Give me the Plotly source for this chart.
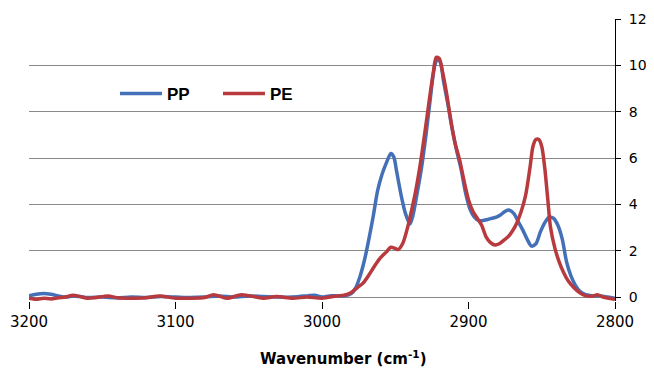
import plotly.graph_objects as go

# ---- data ----
pp_wavenumber = [3200, 3195, 3190, 3185, 3180, 3175, 3170, 3165, 3160, 3150, 3140, 3130, 3120, 3110,
                 3100, 3090, 3080, 3070, 3060, 3050, 3040, 3030, 3020, 3010, 3005, 3000, 2995, 2990,
                 2985, 2980, 2977, 2974, 2971, 2968, 2965, 2962, 2959, 2956, 2953, 2951, 2949, 2946,
                 2943, 2940, 2938, 2935, 2932, 2929, 2926, 2923, 2921, 2919, 2917, 2914, 2911, 2908,
                 2905, 2902, 2899, 2896, 2893, 2890, 2887, 2884, 2881, 2878, 2875, 2872, 2869, 2866,
                 2863, 2860, 2857, 2854, 2851, 2848, 2845, 2842, 2839, 2836, 2833, 2830, 2827, 2824,
                 2820, 2815, 2810, 2805, 2800]
pp_values = [0.05, 0.12, 0.15, 0.12, 0.05, 0.0, 0.05, 0.02, -0.02, 0.0, -0.03, 0.0, -0.02, 0.02,
             0.0, -0.02, 0.0, 0.05, 0.0, 0.05, 0.02, 0.0, 0.0, 0.05, 0.08, 0.0, 0.05, 0.05,
             0.05, 0.15, 0.4, 0.9, 1.6, 2.5, 3.5, 4.6, 5.3, 5.8, 6.2, 6.05, 5.4, 4.4,
             3.6, 3.15, 3.5, 4.5, 5.6, 7.0, 8.6, 10.0, 10.3, 10.1, 9.3, 8.3, 7.2, 6.3,
             5.5, 4.5, 3.8, 3.45, 3.3, 3.3, 3.35, 3.4, 3.45, 3.55, 3.7, 3.75, 3.6, 3.25,
             2.9, 2.5, 2.2, 2.3, 2.8, 3.2, 3.45, 3.4, 3.1, 2.5, 1.5, 0.9, 0.5, 0.25,
             0.1, 0.05, 0.05, 0.0, -0.05]

pe_wavenumber = [3200, 3195, 3190, 3185, 3180, 3175, 3170, 3165, 3160, 3155, 3146, 3140, 3130, 3120,
                 3111, 3100, 3090, 3080, 3074, 3065, 3055, 3045, 3040, 3031, 3020, 3010, 3000, 2990,
                 2985, 2980, 2976, 2972, 2968, 2964, 2960, 2956, 2953, 2950, 2948, 2945, 2942, 2939,
                 2936, 2933, 2930, 2927, 2924, 2922, 2920, 2918, 2915, 2912, 2909, 2906, 2903, 2900,
                 2897, 2894, 2891, 2888, 2885, 2882, 2879, 2876, 2873, 2870, 2867, 2864, 2861, 2858,
                 2856, 2854, 2852, 2850, 2848, 2846, 2844, 2841, 2838, 2835, 2832, 2828, 2824, 2820,
                 2815, 2812, 2808, 2804, 2800]
pe_values = [-0.05, -0.1, -0.05, -0.08, -0.03, 0.0, 0.08, 0.02, -0.05, -0.03, 0.05, -0.03, -0.05, -0.03,
             0.05, -0.05, -0.05, -0.02, 0.1, -0.05, 0.1, 0.0, -0.05, 0.02, -0.05, 0.0, -0.05, 0.05,
             0.08, 0.2, 0.4, 0.6, 0.95, 1.35, 1.7, 1.95, 2.15, 2.1, 2.05, 2.3, 2.9, 3.7,
             4.6, 5.7, 7.0, 8.4, 9.7, 10.35, 10.3, 9.8, 8.8, 7.6, 6.6, 5.9, 5.0, 4.2,
             3.7, 3.4, 3.1, 2.6, 2.35, 2.25, 2.3, 2.45, 2.6, 2.85, 3.2, 3.7, 4.4, 5.6,
             6.5, 6.8, 6.8, 6.5, 5.6, 4.3, 3.0, 2.1, 1.5, 1.05, 0.7, 0.4, 0.18, 0.05,
             0.05, 0.1, 0.0, -0.05, -0.1]

x_tick_values = [3200, 3100, 3000, 2900, 2800]
y_tick_values = [0, 2, 4, 6, 8, 10, 12]

FONT = "DejaVu Sans"

fig = go.Figure()
fig.add_trace(go.Scatter(x=pp_wavenumber, y=pp_values, name="PP", mode="lines",
                         line=dict(color="#4470b8", width=3.5, shape="spline", smoothing=0.8)))
fig.add_trace(go.Scatter(x=pe_wavenumber, y=pe_values, name="PE", mode="lines",
                         line=dict(color="#b83a3e", width=3.5, shape="spline", smoothing=0.8)))

# the page body adds an 8px margin, so the figure is sized to fit the window after it
fig.update_layout(
    width=646, height=360,
    margin=dict(l=21, r=39, t=11, b=67, autoexpand=False),
    paper_bgcolor="white", plot_bgcolor="white",
    font=dict(family=FONT, size=14, color="black"),
    showlegend=True,
    legend=dict(orientation="h", x=0.1467, y=0.734, xanchor="left", yanchor="middle",
                font=dict(family="Liberation Sans", size=17, color="black", weight="bold"),
                itemwidth=42, entrywidth=46, bgcolor="rgba(0,0,0,0)",
                tracegroupgap=0, itemclick=False),
    xaxis=dict(range=[3200, 2800], tickvals=x_tick_values, ticks="outside", ticklen=7,
               tickcolor="black", tickwidth=1, showgrid=False, zeroline=False, showline=False,
               automargin=False,
               tickfont=dict(family=FONT, size=15, color="black")),
    yaxis=dict(range=[-0.17, 12], tickvals=y_tick_values, side="right", ticks="outside",
               ticklen=5, tickcolor="black", showline=True, linecolor="black", linewidth=1,
               showgrid=True, gridcolor="#8a8a8a", gridwidth=1, zeroline=False,
               automargin=False,
               ticklabelstandoff=5, tickfont=dict(family=FONT, size=14, color="black")),
    annotations=[dict(text="<b>Wavenumber (cm<sup>-1</sup>)</b>", xref="paper", yref="paper",
                      x=0.5375, y=-0.202, xanchor="center", yanchor="middle", showarrow=False,
                      font=dict(family=FONT, size=15, color="black"))],
)

fig.write_html("out.html")
